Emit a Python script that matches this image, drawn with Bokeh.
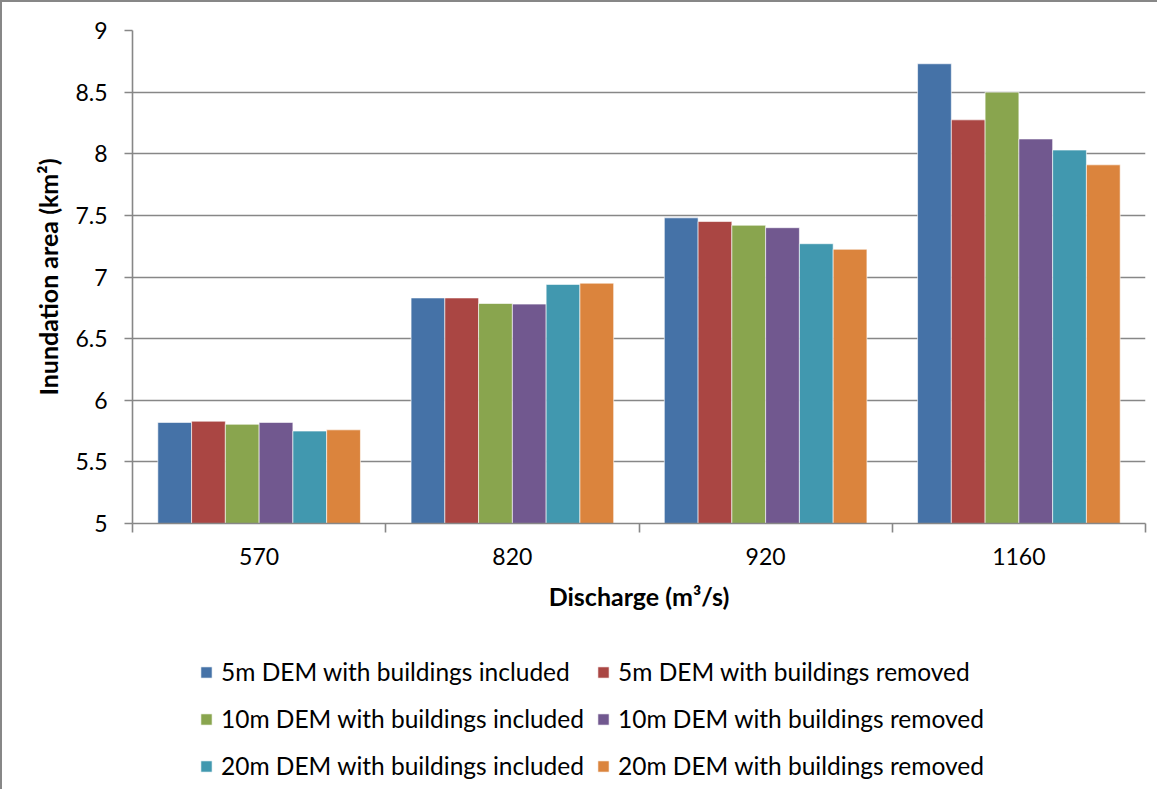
from bokeh.plotting import figure
from bokeh.layouts import column
from bokeh.models import Range1d, FixedTicker, Legend, LegendItem
from bokeh.embed import file_html
from bokeh.resources import INLINE

# ---- data ----
categories = ["570", "820", "920", "1160"]
series_names = [
    "5m DEM with buildings included",
    "5m DEM with buildings removed",
    "10m DEM with buildings included",
    "10m DEM with buildings removed",
    "20m DEM with buildings included",
    "20m DEM with buildings removed",
]
dem5_incl = [5.82, 6.83, 7.48, 8.73]
dem5_rem = [5.83, 6.83, 7.45, 8.275]
dem10_incl = [5.805, 6.785, 7.42, 8.50]
dem10_rem = [5.82, 6.78, 7.40, 8.12]
dem20_incl = [5.75, 6.94, 7.27, 8.03]
dem20_rem = [5.76, 6.95, 7.225, 7.91]
series_values = [dem5_incl, dem5_rem, dem10_incl, dem10_rem, dem20_incl, dem20_rem]
colors = ["#4572A7", "#AA4643", "#89A54E", "#71588F", "#4198AF", "#DB843D"]
y_ticks = [5, 5.5, 6, 6.5, 7, 7.5, 8, 8.5, 9]
y_tick_labels = ["5", "5.5", "6", "6.5", "7", "7.5", "8", "8.5", "9"]

FONT = "Lato"
GRAY = "#878787"

W = 1155
H_MAIN, H_LEG = 630, 157
p = figure(width=W, height=H_MAIN, output_backend="svg", toolbar_location=None,
           x_range=Range1d(0, len(categories)), y_range=Range1d(5, 9),
           min_border_left=130, min_border_top=28, min_border_right=12,
           min_border_bottom=H_MAIN - 521)
p.outline_line_color = None
p.background_fill_color = "white"
p.border_fill_color = "white"

n = len(series_values)
group_width = 0.8
bw = group_width / n
centers = [ci + 0.5 for ci in range(len(categories))]
bar_kw = dict(line_color="white", line_alpha=0.6, line_width=1)
for i, (vals, col) in enumerate(zip(series_values, colors)):
    xs = [c - group_width / 2 + bw * (i + 0.5) for c in centers]
    p.vbar(x=xs, top=vals, bottom=5, width=bw, fill_color=col, **bar_kw)

# grid
p.xgrid.grid_line_color = None
p.ygrid.ticker = FixedTicker(ticks=y_ticks)
p.ygrid.grid_line_color = GRAY
p.ygrid.grid_line_width = 1.6

# y axis
ya = p.yaxis[0]
ya.ticker = FixedTicker(ticks=y_ticks)
ya.major_label_overrides = {float(t): l for t, l in zip(y_ticks, y_tick_labels)}
ya.axis_line_color = GRAY
ya.axis_line_width = 1.6
ya.major_tick_line_color = GRAY
ya.major_tick_line_width = 1.6
ya.major_tick_in = 0
ya.major_tick_out = 8
ya.minor_tick_line_color = None
ya.major_label_standoff = 17
ya.major_label_text_font = FONT
ya.major_label_text_font_size = "23px"
ya.major_label_text_color = "black"
ya.axis_label = "Inundation area (km²)"
ya.axis_label_text_font = FONT
ya.axis_label_text_font_style = "bold"
ya.axis_label_text_font_size = "25px"
ya.axis_label_text_color = "black"
ya.axis_label_standoff = 9

# x axis
xa = p.xaxis[0]
bounds = [float(ci) for ci in range(len(categories) + 1)]
xa.ticker = FixedTicker(ticks=centers, minor_ticks=bounds)
xa.major_label_overrides = {c: l for c, l in zip(centers, categories)}
xa.axis_line_color = GRAY
xa.axis_line_width = 1.6
xa.major_tick_line_color = None
xa.major_tick_in = 0
xa.major_tick_out = 9
xa.minor_tick_line_color = GRAY
xa.minor_tick_line_width = 1.6
xa.minor_tick_in = 0
xa.minor_tick_out = 9
xa.major_label_standoff = 15
xa.major_label_text_font = FONT
xa.major_label_text_font_size = "23px"
xa.major_label_text_color = "black"
xa.axis_label = "Discharge (m³/s)"
xa.axis_label_text_font = FONT
xa.axis_label_text_font_style = "bold"
xa.axis_label_text_font_size = "25px"
xa.axis_label_text_color = "black"
xa.axis_label_standoff = 13

# ---- legend panel (separate figure below; its bars are hidden, only the key shows) ----
lf = figure(width=W, height=H_LEG, output_backend="svg", toolbar_location=None,
            x_range=Range1d(0, 1), y_range=Range1d(0, 1),
            x_axis_location=None, y_axis_location=None,
            min_border=0)
lf.outline_line_color = None
lf.xgrid.grid_line_color = None
lf.ygrid.grid_line_color = None
leg_renderers = []
for vals, col in zip(series_values, colors):
    r = lf.vbar(x=centers, top=vals, bottom=5, width=bw, fill_color=col, **bar_kw)
    r.visible = False
    leg_renderers.append(r)

legend_order = [0, 2, 4, 1, 3, 5]
legend = Legend(
    items=[LegendItem(label=series_names[i], renderers=[leg_renderers[i]]) for i in legend_order],
    location=(67, 6), orientation="vertical", ncols=2, click_policy="none",
    glyph_width=14, glyph_height=14, label_standoff=8,
    label_height=35, spacing=12, padding=0, margin=0,
    border_line_color=None, background_fill_alpha=0, inactive_fill_alpha=0,
    label_text_font=FONT, label_text_font_size="24.5px", label_text_color="black")
lf.add_layout(legend, "center")

layout = column(p, lf, spacing=0)
layout.styles = {"border-top": f"2px solid {GRAY}", "border-left": f"2px solid {GRAY}"}

open("out.html", "w").write(file_html(layout, INLINE))
